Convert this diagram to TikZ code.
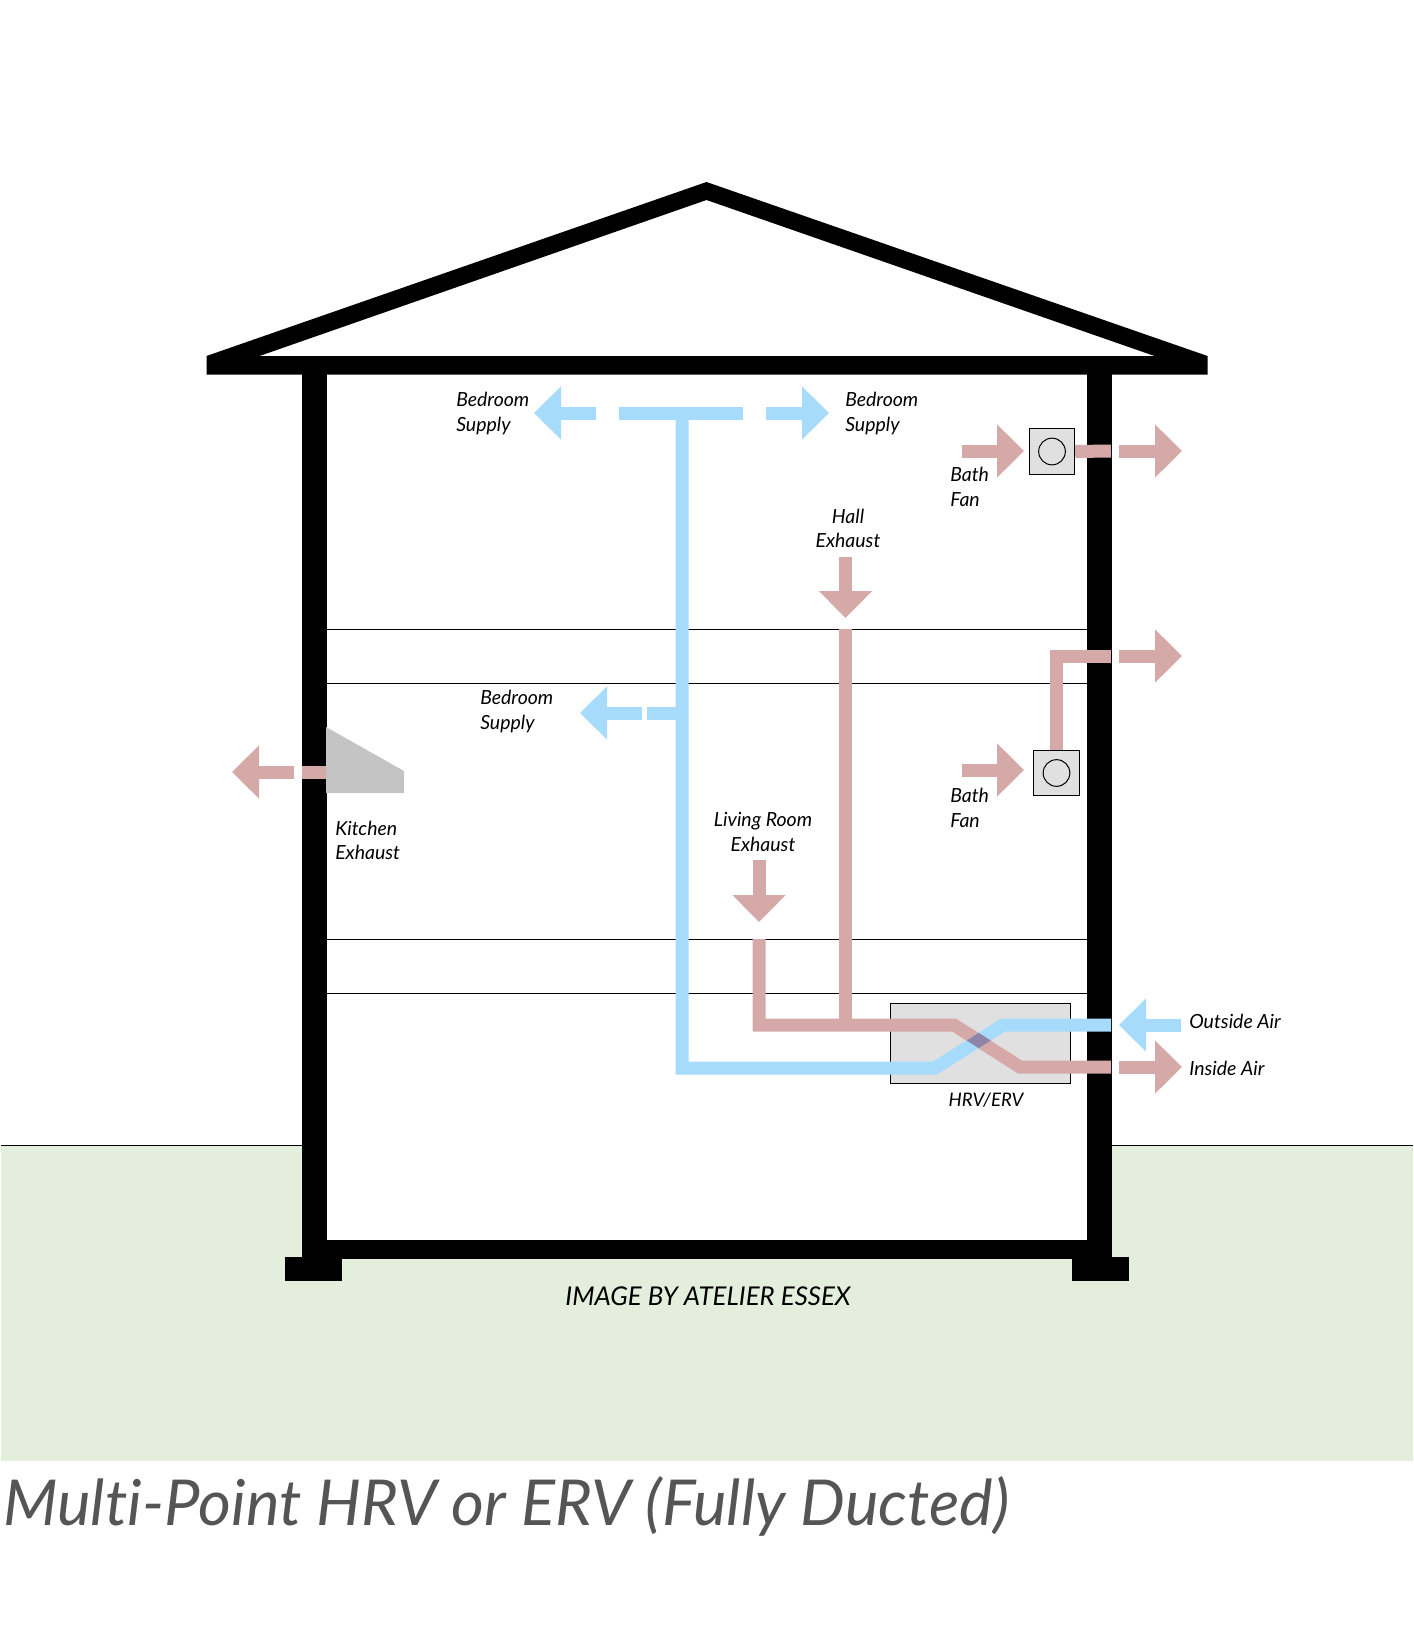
\documentclass[tikz,border=0pt]{standalone}
\usepackage{fontspec}
\setmainfont{Lato}[Ligatures=NoCommon]
\usetikzlibrary{arrows.meta}

\definecolor{ductblue}{HTML}{A6DBFC}
\definecolor{ductpink}{HTML}{D6A9A9}
\definecolor{groundgreen}{HTML}{E4EEDC}
\definecolor{unitgrey}{HTML}{E0E0E0}
\definecolor{hoodgrey}{HTML}{C4C4C4}
\definecolor{crossing}{HTML}{8E84A8}
\definecolor{titlegrey}{HTML}{555555}

\tikzset{
  blueduct/.style={draw=ductblue, line width=9.75pt},
  pinkduct/.style={draw=ductpink, line width=9.75pt},
  blueflow/.style={blueduct, -{Triangle[length=20.25pt,width=38.75pt]}},
  pinkflow/.style={pinkduct, -{Triangle[length=20.25pt,width=38.75pt]}},
  slabline/.style={draw=black, line width=0.75pt},
  fanbox/.style={draw=black, fill=unitgrey, line width=0.75pt, minimum width=34pt, minimum height=34pt, inner sep=0pt},
  fanwheel/.style={draw=black, circle, line width=0.75pt, minimum size=20pt, inner sep=0pt},
  lbl/.style={font=\itshape\fontsize{14.6}{18.6}\selectfont, inner sep=0pt, align=left, anchor=west},
  lblmid/.style={font=\itshape\fontsize{14.6}{18.6}\selectfont, inner sep=0pt, align=center}
}

\begin{document}
\begin{tikzpicture}[x=0.75pt, y=-0.75pt]

\useasboundingbox (0,0) rectangle (1413,1626);

\fill[groundgreen] (1,1145) rectangle (1413,1461);
\fill[white] (302,1145) rectangle (1112,1240);
\draw[slabline] (1,1145) -- (302,1145);
\draw[slabline] (1112,1145) -- (1413,1145);

\draw[slabline] (327,629) -- (1087,629);
\draw[slabline] (327,683) -- (1087,683);
\draw[slabline] (327,939) -- (1087,939);
\draw[slabline] (327,993) -- (1087,993);

\fill[black, even odd rule] (706.5,182) -- (1207.5,356) -- (1207.5,374.5) -- (206.5,374.5) -- (206.5,356) -- cycle
  (706.5,200) -- (1154.5,356) -- (259.5,356) -- cycle;
\fill[black] (302,374) rectangle (327,1240);
\fill[black] (1087,374) rectangle (1112,1240);
\fill[black] (302,1240) rectangle (1112,1259);
\fill[black] (285,1257) rectangle (342,1281);
\fill[black] (1071.5,1257) rectangle (1128.5,1281);

\fill[hoodgrey] (326,727) -- (404,771) -- (404,793) -- (326,793) -- cycle;

\node[fanbox, minimum width=135pt, minimum height=60pt] (unit) at (980,1043) {};

\draw[pinkduct] (759,939) -- (759,1025) -- (954,1025) -- (1020,1067) -- (1111,1067);
\draw[pinkduct] (845.5,629) -- (845.5,1025);
\draw[blueduct] (682,413) -- (682,1068) -- (935,1068) -- (1003,1025) -- (1111,1025);
\draw[blueduct] (619,413) -- (743,413);
\draw[blueduct] (647,713) -- (682,713);
\fill[crossing] (966.6,1040.5) -- (978.7,1032.8) -- (990.8,1040.5) -- (978.7,1048.2) -- cycle;

\draw[blueflow] (596,413) -- (534,413);
\draw[blueflow] (766,413) -- (829,413);
\draw[blueflow] (642,713) -- (580,713);
\draw[blueflow] (1181,1025) -- (1119,1025);
\draw[pinkflow] (1119,1067) -- (1182,1067);

\node[fanbox] (fanupper) at (1052,451.5) {};
\node[fanwheel] (wheelupper) at (fanupper) {};
\node[fanbox] (fanlower) at (1056.5,773) {};
\node[fanwheel] (wheellower) at (fanlower) {};

\draw[pinkduct] (fanupper.east) -- (1111,451);
\draw[pinkduct] (fanlower.north) -- (1056.5,656) -- (1111,656);
\draw[pinkduct] (302,772) -- (326,772);

\draw[pinkflow] (962,451) -- (1024,451);
\draw[pinkflow] (1119,451) -- (1182,451);
\draw[pinkflow] (962,770) -- (1024,770);
\draw[pinkflow] (1119,656) -- (1182,656);
\draw[pinkflow] (294,772) -- (232,772);
\draw[pinkflow] (845.5,557) -- (845.5,618);
\draw[pinkflow] (759,860) -- (759,922);

\node[lbl] (supplyleft) at (456,413.5) {Bedroom\\Supply};
\node[lbl] (supplyright) at (845,413.5) {Bedroom\\Supply};
\node[lbl] (supplymid) at (480,711.5) {Bedroom\\Supply};
\node[lbl] (bathupper) at (950,486.5) {Bath\\Fan};
\node[lbl] (bathlower) at (950,807.5) {Bath\\Fan};
\node[lblmid] (hall) at (848,528.5) {Hall\\Exhaust};
\node[lblmid] (living) at (763,832) {Living Room\\Exhaust};
\node[lbl] (kitchen) at (335,840.5) {Kitchen\\Exhaust};
\node[lbl] (outside) at (1189,1021.5) {Outside Air};
\node[lbl] (inside) at (1189,1068.5) {Inside Air};
\node[lblmid, font=\itshape\fontsize{14}{18.6}\selectfont] (unitname) at (986,1100.5) {HRV/ERV};

\node[font=\itshape\fontsize{19.4}{22}\selectfont, inner sep=0pt] (credit) at (708,1296) {IMAGE BY ATELIER ESSEX};
\node[font=\itshape\fontsize{47.5}{56}\selectfont, text=titlegrey, inner sep=0pt, anchor=base west] (heading) at (3,1525) {Multi-Point HRV or ERV (Fully Ducted)};

\end{tikzpicture}
\end{document}
